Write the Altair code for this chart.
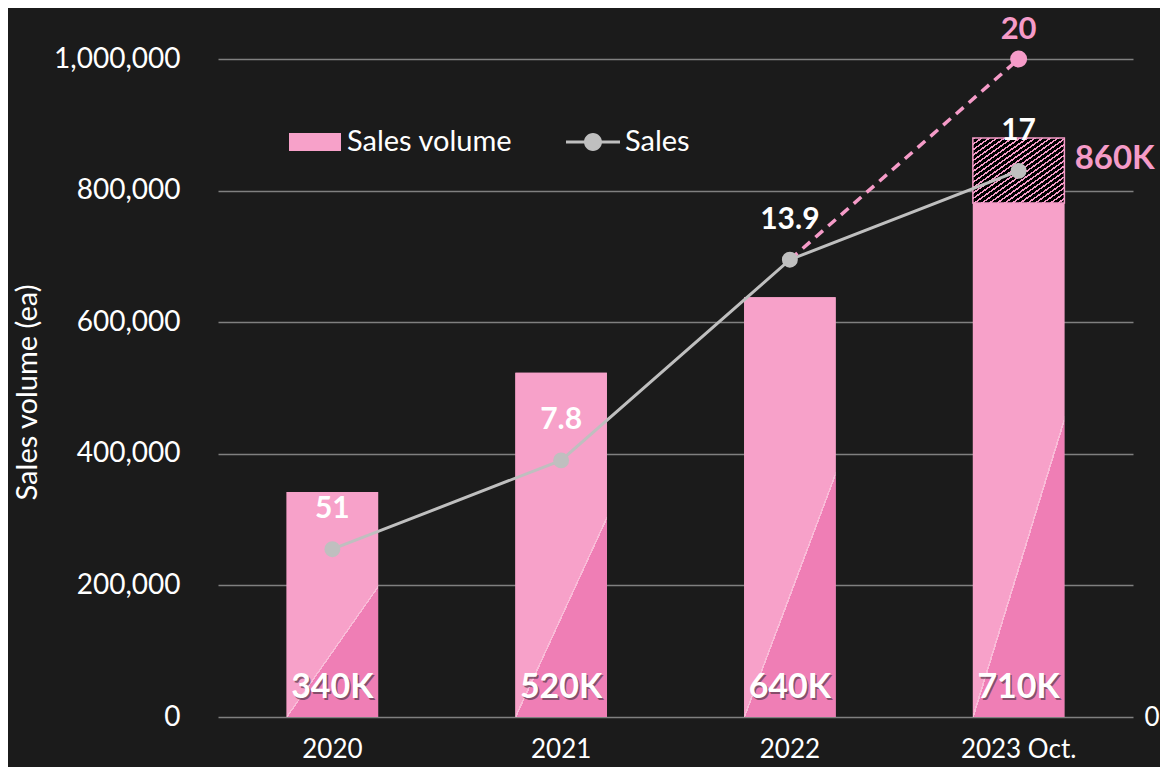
import altair as alt
import pandas as pd

# ---- data ----
years = ["2020", "2021", "2022", "2023 Oct."]
volume = [342000, 523000, 638000, 781000]
volume_labels = ["340K", "520K", "640K", "710K"]
sales = [5.1, 7.8, 13.9, 16.6]
sales_labels = ["51", "7.8", "13.9", "17"]

fc_year = ["2023 Oct."]
fc_base = [781000]
fc_top = [880000]
fc_label = ["860K"]

target_years = ["2022", "2023 Oct."]
target_sales = [13.9, 20.0]
target_label = ["", "20"]

# ---- styles ----
LIGHT = "#F7A1C9"
DARK = "#EF7EB5"
PINK = "#F59BC8"
GREY = "#BFBFBF"
FONT = "Lato"

df = pd.DataFrame({"year": years, "volume": volume, "vlabel": volume_labels,
                   "sales": sales, "slabel": sales_labels,
                   "s1": ["Sales volume"] * 4, "s2": ["Sales"] * 4})
df_fc = pd.DataFrame({"year": fc_year, "base": fc_base, "top": fc_top, "label": fc_label})
df_t = pd.DataFrame({"year": target_years, "sales": target_sales, "label": target_label})

bar_grad = {
    "gradient": "linear", "x1": 0, "y1": 0, "x2": 0.58, "y2": 1,
    "stops": [
        {"offset": 0, "color": LIGHT}, {"offset": 0.745, "color": LIGHT},
        {"offset": 0.745, "color": "#F9BCD8"}, {"offset": 0.753, "color": "#F9BCD8"},
        {"offset": 0.753, "color": DARK}, {"offset": 1, "color": DARK},
    ],
}
stops = []
n = 24
for i in range(n):
    a = i / n
    b = (i + 0.35) / n
    c = (i + 1) / n
    stops += [{"offset": a, "color": PINK}, {"offset": b, "color": PINK},
              {"offset": b, "color": "#000000"}, {"offset": c, "color": "#000000"}]
hatch = {"gradient": "linear", "x1": 0, "y1": 0, "x2": 1, "y2": 1, "stops": stops}

x_axis = alt.Axis(title=None, labelFont=FONT, labelFontSize=26, labelColor="white",
                  labelPadding=19, domain=False, ticks=False, grid=False, labelAngle=0)
y_axis = alt.Axis(values=[0, 200000, 400000, 600000, 800000, 1000000], format=",d",
                  labelFont=FONT, labelFontSize=28, labelColor="white", labelPadding=38,
                  domain=False, ticks=False, grid=True, gridColor="#808080", gridWidth=1.5,
                  title="Sales volume (ea)", titleFont=FONT, titleFontSize=29,
                  titleFontWeight="normal", titleColor="white", titleX=-182, titleY=333,
                  titleAlign="center", titleBaseline="alphabetic", titleAngle=270)
r_axis = alt.Axis(values=[0], labelFont=FONT, labelFontSize=26, labelColor="white",
                  labelPadding=11, domain=False, ticks=False, grid=False, title=None,
                  orient="right")
xscale = alt.Scale(paddingInner=0.6, paddingOuter=0.3)
yscale = alt.Scale(domain=[0, 1000000])
sscale = alt.Scale(domain=[0, 20])


def X():
    return alt.X("year:N", sort=years, axis=x_axis, scale=xscale)


def YL(field):
    return alt.Y(field, scale=yscale, axis=y_axis)


def YR(field):
    return alt.Y(field, scale=sscale, axis=r_axis)


base = alt.Chart(df)

bars_leg = base.mark_bar().encode(
    x=X(), y=YL("volume:Q"),
    color=alt.Color("s1:N", scale=alt.Scale(domain=["Sales volume"], range=[LIGHT]),
                    legend=alt.Legend(orient="none", legendX=71, legendY=57, title=None,
                                      symbolType="M-1,-0.35H1V0.35H-1Z", symbolSize=2704,
                                      symbolStrokeWidth=0, labelFont=FONT, labelFontSize=29,
                                      labelLimit=400,
                                      labelColor="white", labelOffset=6, padding=0)),
)
bars = base.mark_bar(fill=bar_grad).encode(x=X(), y=YL("volume:Q"))
hatched = alt.Chart(df_fc).mark_bar(fill=hatch, stroke=PINK, strokeWidth=1.5).encode(
    x=X(), y=YL("base:Q"), y2="top:Q")
vshadow = base.mark_text(font=FONT, fontSize=34, fontWeight="bold", color="#5b3a4c",
                         opacity=0.7, baseline="alphabetic", dy=-17.5, dx=1.5).encode(
    x=X(), y=alt.YDatum(0, scale=yscale, axis=y_axis), text="vlabel:N")
vlab = base.mark_text(font=FONT, fontSize=34, fontWeight="bold", color="white",
                      baseline="alphabetic", dy=-19).encode(
    x=X(), y=alt.YDatum(0, scale=yscale, axis=y_axis), text="vlabel:N")
fclab = alt.Chart(df_fc).mark_text(font=FONT, fontSize=33, fontWeight="bold", color=PINK,
                                   align="left", baseline="alphabetic", dx=56, dy=31).encode(
    x=X(), y=YL("top:Q"), text="label:N")

left = alt.layer(bars_leg, bars, hatched, vshadow, vlab, fclab)

line = base.mark_line(color=GREY, strokeWidth=3).encode(x=X(), y=YR("sales:Q"))
dash = alt.Chart(df_t).mark_line(color=PINK, strokeWidth=3.5, strokeDash=[10, 7]).encode(
    x=X(), y=YR("sales:Q"))
leg_path = ("M-1,-0.06H-0.3V0.06H-1Z M0.3,-0.06H1V0.06H0.3Z "
            "M-0.333,0A0.333,0.333,0,1,1,0.333,0A0.333,0.333,0,1,1,-0.333,0Z")
pts = base.mark_circle(size=254, opacity=1).encode(
    x=X(), y=YR("sales:Q"),
    color=alt.Color("s2:N", scale=alt.Scale(domain=["Sales"], range=[GREY]),
                    legend=alt.Legend(orient="none", legendX=348, legendY=56, title=None,
                                      symbolType=leg_path, symbolSize=2916,
                                      symbolStrokeWidth=0, symbolOpacity=1,
                                      labelFont=FONT, labelFontSize=29, labelLimit=400,
                                      labelColor="white", labelOffset=5, padding=0)),
)
tpt = alt.Chart(df_t).transform_filter(alt.datum.label != "").mark_circle(
    size=290, color=PINK, opacity=1).encode(x=X(), y=YR("sales:Q"))
slab = base.mark_text(font=FONT, fontSize=30, fontWeight="bold", color="white",
                      baseline="alphabetic", dy=-31).encode(
    x=X(), y=YR("sales:Q"), text="slabel:N")
tlab = alt.Chart(df_t).mark_text(font=FONT, fontSize=31, fontWeight="bold", color=PINK,
                                 baseline="alphabetic", dy=-20).encode(
    x=X(), y=YR("sales:Q"), text="label:N")

right = alt.layer(line, dash, pts, tpt, slab, tlab)

chart = alt.layer(left, right).resolve_scale(y="independent", color="independent").properties(
    width=915, height=658,
    autosize=alt.AutoSizeParams(type="none"),
    padding={"left": 210, "top": 51, "right": 27, "bottom": 50},
    background="#1b1b1b",
).configure_view(stroke=None)

chart.save("out.html", embed_options={"renderer": "svg", "actions": False})
